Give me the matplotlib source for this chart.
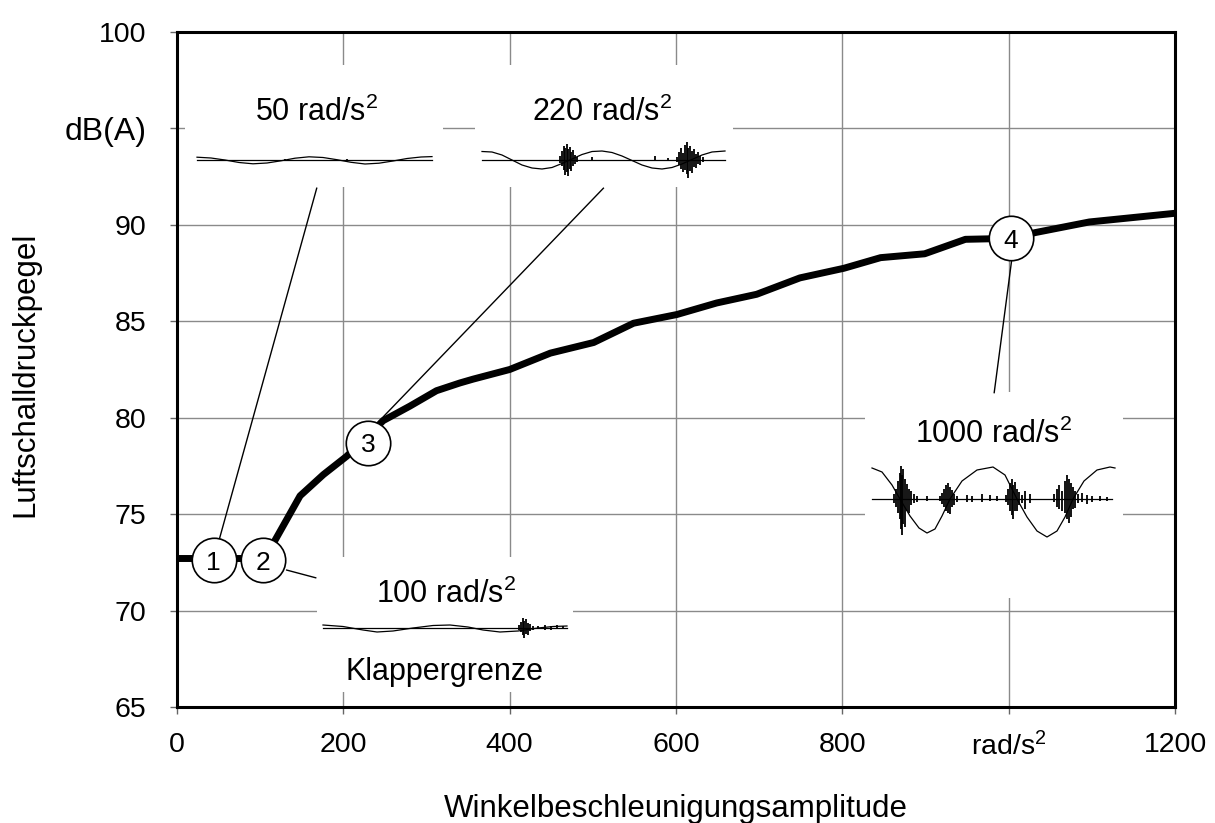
import matplotlib.pyplot as plt

plt.rcParams['font.family'] = ['Liberation Sans', 'DejaVu Sans']
plt.rcParams['mathtext.fontset'] = 'custom'
plt.rcParams['mathtext.rm'] = 'Liberation Sans'
plt.rcParams['mathtext.it'] = 'Liberation Sans:italic'
plt.rcParams['mathtext.default'] = 'regular'

# Messkurve: Winkelbeschleunigungsamplitude (rad/s^2) -> Luftschalldruckpegel dB(A)
amplitude = [0, 100, 105, 116, 148, 176, 204, 248, 280, 312, 340, 356, 400, 449, 501,
             549, 601, 649, 697, 749, 802, 846, 899, 948, 1003, 1032, 1097, 1200]
pegel = [72.7, 72.7, 72.75, 73.5, 75.95, 77.05, 78.0, 79.85, 80.6, 81.4, 81.8, 82.0, 82.5, 83.35, 83.9,
         84.9, 85.35, 85.95, 86.4, 87.25, 87.75, 88.3, 88.5, 89.25, 89.3, 89.6, 90.15, 90.6]

# nummerierte Messpunkte
punkt_x = [44, 104, 230, 1003]
punkt_y = [72.6, 72.6, 78.7, 89.3]
punkt_nr = ['1', '2', '3', '4']

# Hinweislinien (Kreis -> Oszillogramm)
linie_x0 = [50.9, 131.9, 242.5, 1003.4]
linie_y0 = [73.7, 72.1, 79.8, 88.1]
linie_x1 = [168.0, 166.8, 512.7, 982.6]
linie_y1 = [91.9, 71.7, 91.9, 81.3]

x_ticks = [0, 200, 400, 600, 800, 1000, 1200]
x_ticklabels = ['0', '200', '400', '600', '800', 'rad/s$^2$', '1200']
y_ticks = [65, 70, 75, 80, 85, 90, 95, 100]
y_ticklabels = ['65', '70', '75', '80', '85', '90', 'dB(A)', '100']

# Oszillogramme (x: px ab Spurbeginn, y: px ueber Nulllinie)
sin50_x = [0, 14, 28, 42, 56, 70, 84, 98, 112, 126, 140, 154, 168, 182, 196, 210, 224, 235]
sin50_y = [2.8, 2, 0, -2.5, -3.8, -3, -0.8, 1.8, 3.2, 2.5, 0.3, -2.3, -4, -3.2, -1, 1.5, 3, 3.4]
spk50_x, spk50_up, spk50_dn = [88, 150], [1.5, 1.5], [1, 1]

sin220_x = [0, 10, 20, 30, 40, 50, 60, 70, 80, 90, 100, 110, 120, 130, 140, 150, 160, 170,
            180, 190, 200, 210, 220, 230, 243]
sin220_y = [8.5, 8, 5, 0, -5, -8, -9, -7.5, -3.5, 1, 5.5, 8.5, 9, 7.5, 4, -0.5, -5, -8,
            -9, -7.5, -4, 0.5, 5, 8, 9]
spk220_x = [78, 80, 82, 83, 85, 86, 88, 89, 91, 93, 95, 110, 173, 186,
            195, 197, 199, 201, 203, 205, 206, 208, 210, 212, 214, 216, 218, 221]
spk220_up = [4, 9, 14, 12, 16, 11, 13, 8, 10, 5, 3, 3, 4, 2,
             3, 8, 12, 7, 15, 18, 12, 14, 9, 11, 6, 8, 4, 3]
spk220_dn = [3, 6, 10, 15, 12, 16, 9, 11, 6, 4, 2, 1, 1, 1,
             2, 5, 9, 12, 10, 14, 18, 11, 13, 7, 8, 4, 5, 2]

sin100_x = [0, 20, 40, 54, 70, 90, 110, 127, 145, 160, 177, 195, 215, 230, 244]
sin100_y = [3, 1.5, -2, -4, -3, 0, 2.5, 3, 1, -2, -4, -3, 0, 1.5, 2]
spk100_x = [196, 198, 200, 201, 203, 205, 207, 210, 215, 222, 228, 234, 240]
spk100_up = [3, 6, 10, 7, 9, 5, 4, 2, 2, 3, 2, 3, 2]
spk100_dn = [2, 4, 7, 10, 6, 7, 3, 2, 1, 2, 2, 1, 1]

sin1000_x = [0, 10, 20, 28, 38, 47, 55, 63, 70, 78, 90, 105, 121, 133, 145, 155, 165, 175,
             185, 193, 201, 212, 225, 238, 243]
sin1000_y = [31, 27, 14, 0, -17, -29, -34, -30, -17, 0, 18, 29, 32, 24, 0, -18, -32, -38,
             -32, -18, 0, 18, 29, 32, 31]
spk1000_x = [22, 24, 26, 28, 29, 30, 31, 33, 35, 37, 39, 42, 45, 55,
             68, 70, 72, 74, 76, 78, 80, 82, 85, 95, 100, 110, 118, 125,
             134, 136, 138, 140, 141, 143, 145, 147, 150, 153, 158,
             182, 185, 187, 190, 193, 195, 197, 199, 201, 203, 206, 210, 215, 220, 228, 235]
spk1000_up = [5, 10, 18, 26, 33, 24, 30, 20, 15, 10, 8, 5, 3, 3,
              3, 6, 10, 14, 16, 12, 9, 5, 3, 4, 3, 5, 4, 3,
              4, 10, 16, 20, 14, 17, 10, 7, 4, 8, 5,
              5, 10, 14, 8, 18, 24, 20, 16, 12, 8, 5, 6, 4, 3, 3, 2]
spk1000_dn = [4, 8, 14, 20, 30, 36, 25, 28, 12, 14, 6, 4, 3, 2,
              2, 5, 8, 12, 14, 15, 8, 6, 3, 3, 3, 3, 2, 2,
              3, 6, 12, 16, 20, 12, 12, 6, 4, 10, 4,
              3, 8, 10, 12, 14, 20, 24, 18, 10, 9, 4, 3, 5, 3, 2, 2]

# Bildkoordinaten (px) der Achsenflaeche
X0, X1, Y0, Y1 = 177, 1175, 707, 32
AW, AH = X1 - X0, Y0 - Y1

fig = plt.figure(figsize=(12.15, 8.23), dpi=100)
ax = fig.add_axes([X0 / 1215, 1 - Y0 / 823, AW / 1215, AH / 823])

ax.set_xlim(0, 1200)
ax.set_ylim(65, 100)
ax.set_axisbelow(True)
ax.grid(True, color='#8a8a8a', lw=1.0)
for s in ax.spines.values():
    s.set_linewidth(2.2)
    s.set_color('black')
ax.set_xticks(x_ticks)
ax.set_xticklabels(x_ticklabels)
ax.set_yticks(y_ticks)
ax.set_yticklabels(y_ticklabels)
ax.tick_params(axis='both', direction='out', length=5, width=1, color='#666666', labelsize=20.5)
ax.tick_params(axis='x', pad=13)
ax.tick_params(axis='y', pad=17)
ax.get_yticklabels()[6].set_fontsize(23)

fig.text(676 / 1215, 1 - 817 / 823, 'Winkelbeschleunigungsamplitude', fontsize=22.5,
         ha='center', va='baseline')
fig.text(33 / 1215, 1 - 374 / 823, 'Luftschalldruckpegel', fontsize=22.5, rotation=90,
         rotation_mode='anchor', ha='center', va='baseline')


def oszillogramm(box, base, start, breite, sx, sy, kx, kup, kdn, texte):
    left, top, right, bottom = box
    ins = ax.inset_axes([(left - X0) / AW, (Y0 - bottom) / AH, (right - left) / AW, (bottom - top) / AH],
                        zorder=2)
    ins.set_xlim(0, right - left)
    ins.set_ylim(base - bottom, base - top)
    ins.set_facecolor('white')
    ins.set_xticks([])
    ins.set_yticks([])
    for s in ins.spines.values():
        s.set_visible(False)
    off = start - left
    ins.plot([off, off + breite], [0, 0], color='black', lw=0.9)
    ins.plot([off + v for v in sx], sy, color='black', lw=0.9)
    ins.vlines([off + v for v in kx], [-v for v in kdn], kup, color='black', lw=1.3)
    for tx, ty, t in texte:
        ins.text(tx - left, base - ty, t, fontsize=22, ha='center', va='baseline')


oszillogramm((185, 65, 443, 187), 160, 197, 235, sin50_x, sin50_y, spk50_x, spk50_up, spk50_dn,
             [(317, 121, '50 rad/s$^2$')])
oszillogramm((475, 65, 733, 187), 160, 482, 243, sin220_x, sin220_y, spk220_x, spk220_up, spk220_dn,
             [(602, 121, '220 rad/s$^2$')])
oszillogramm((317, 557, 573, 692), 628, 323, 244, sin100_x, sin100_y, spk100_x, spk100_up, spk100_dn,
             [(446, 603, '100 rad/s$^2$'), (445, 680, 'Klappergrenze')])
oszillogramm((865, 392, 1123, 598), 499, 872, 240, sin1000_x, sin1000_y, spk1000_x, spk1000_up, spk1000_dn,
             [(994, 443, '1000 rad/s$^2$')])

for i in range(len(linie_x0)):
    ax.plot([linie_x0[i], linie_x1[i]], [linie_y0[i], linie_y1[i]], color='black', lw=1.0, zorder=3)

ax.plot(amplitude, pegel, color='black', lw=5, solid_joinstyle='round', zorder=4)

ax.plot(punkt_x, punkt_y, 'o', ms=32, mfc='white', mec='black', mew=1.2, zorder=6)
for px, py, nr in zip(punkt_x, punkt_y, punkt_nr):
    ax.text(px, py, nr, fontsize=19, ha='center', va='center_baseline', zorder=7)

fig.savefig('out.png', dpi=100)
